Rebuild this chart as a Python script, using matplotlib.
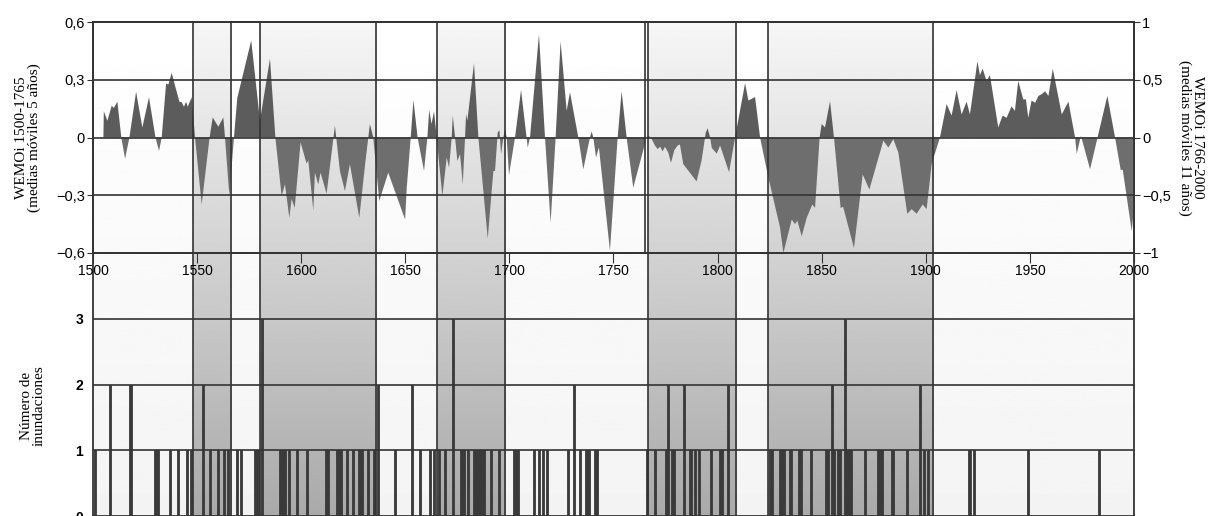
import numpy as np
import matplotlib.pyplot as plt

plt.rcParams['font.family'] = ['Liberation Sans', 'DejaVu Sans']

# WEMOi 1500-1765, 5-year moving averages (left axis)
early_years = [1505.0, 1505.2, 1506.9, 1509.0, 1510.0, 1511.7, 1513.6, 1515.4, 1517.5, 1520.7,
               1523.7, 1526.9, 1530.0, 1531.7, 1533.0, 1535.1, 1536.2, 1537.8, 1539.4, 1541.5,
               1542.6, 1543.7, 1544.7, 1545.5, 1547.4, 1549.0, 1552.2, 1556.0, 1557.5, 1560.2,
               1562.6, 1563.4, 1565.5, 1567.7, 1569.3, 1576.0, 1580.2, 1585.0, 1587.6, 1590.6,
               1592.2, 1594.3, 1595.4, 1596.9, 1599.7, 1602.6, 1603.4, 1605.8, 1606.6, 1608.2,
               1609.3, 1612.2, 1616.2, 1618.6, 1621.0, 1623.4, 1627.9, 1630.7, 1633.0, 1634.6,
               1637.5, 1641.8, 1649.9, 1650.7, 1652.6, 1653.9, 1655.9, 1659.0, 1660.6, 1661.5,
               1662.6, 1663.8, 1665.1, 1666.3, 1667.8, 1669.9, 1671.0, 1672.3, 1672.8, 1673.9,
               1675.0, 1676.3, 1677.6, 1678.7, 1679.2, 1679.8, 1683.0, 1685.1, 1689.6, 1692.3,
               1693.1, 1694.4, 1695.2, 1696.0, 1697.1, 1697.9, 1698.7, 1699.8, 1702.7, 1705.6,
               1708.8, 1709.9, 1714.2, 1717.1, 1719.8, 1722.2, 1724.6, 1727.5, 1729.1, 1733.1,
               1735.5, 1738.7, 1739.5, 1740.3, 1741.6, 1743.0, 1748.3, 1752.0, 1753.9, 1756.3,
               1759.5, 1765.4]
early_vals = [0.0, 0.136, 0.087, 0.165, 0.153, 0.186, 0.0, -0.11, 0.0, 0.238,
              0.052, 0.209, 0.0, -0.07, 0.0, 0.28, 0.275, 0.336, 0.27, 0.186,
              0.183, 0.16, 0.186, 0.16, 0.209, 0.0, -0.348, 0.0, 0.104, 0.056,
              0.104, 0.0, -0.304, 0.0, 0.205, 0.504, 0.087, 0.409, 0.0, -0.304,
              -0.243, -0.417, -0.32, -0.365, -0.026, -0.136, -0.118, -0.379, -0.183, -0.243,
              -0.183, -0.292, 0.061, -0.174, -0.278, -0.139, -0.417, -0.139, 0.07, 0.0,
              -0.33, -0.183, -0.426, -0.261, 0.0, 0.195, 0.0, -0.174, 0.0, 0.143,
              0.07, 0.136, 0.0, -0.139, -0.304, -0.104, -0.157, 0.0, 0.113, 0.0,
              -0.122, -0.087, -0.243, 0.0, 0.122, 0.087, 0.386, 0.0, -0.525, -0.174,
              -0.174, 0.026, 0.038, -0.087, 0.0, 0.043, 0.0, -0.195, 0.0, 0.247,
              -0.052, 0.0, 0.536, 0.0, -0.443, 0.0, 0.499, 0.139, 0.235, 0.0,
              -0.165, 0.0, 0.031, 0.0, -0.104, -0.052, -0.588, 0.0, 0.24, 0.0,
              -0.261, -0.02]

# WEMOi 1766-2000, 11-year moving averages (right axis)
late_years = [1765.8, 1766.7, 1768.0, 1769.9, 1771.2, 1772.4, 1773.6, 1774.7, 1776.3, 1777.6,
              1779.2, 1780.8, 1781.9, 1783.5, 1789.9, 1792.3, 1794.3, 1795.2, 1796.4, 1797.2,
              1799.6, 1801.2, 1805.5, 1808.4, 1813.2, 1814.8, 1818.0, 1820.4, 1824.3, 1830.0,
              1831.6, 1835.6, 1837.2, 1838.3, 1840.4, 1842.8, 1845.5, 1846.8, 1849.0, 1850.0,
              1851.6, 1854.0, 1855.9, 1859.1, 1860.3, 1865.5, 1869.7, 1872.9, 1879.6, 1882.0,
              1884.4, 1886.8, 1891.1, 1893.2, 1895.6, 1898.5, 1900.4, 1902.8, 1906.8, 1910.0,
              1912.4, 1914.8, 1917.2, 1919.6, 1921.2, 1924.8, 1926.0, 1927.3, 1929.2, 1930.8,
              1934.8, 1936.9, 1938.8, 1941.2, 1942.8, 1944.4, 1946.8, 1948.1, 1949.2, 1950.8,
              1952.5, 1954.1, 1955.7, 1957.3, 1958.9, 1961.0, 1965.3, 1968.5, 1971.7, 1972.5,
              1974.5, 1978.9, 1987.2, 1990.9, 1993.6, 1994.6, 1998.9, 2000.0]
late_vals = [0.0, 0.015, 0.0, -0.07, -0.10, -0.08, -0.12, -0.08, -0.13, -0.22,
             -0.11, -0.07, -0.06, -0.23, -0.38, -0.20, 0.04, 0.08, 0.0, -0.09,
             -0.14, -0.07, -0.30, 0.0, 0.47, 0.32, 0.35, 0.0, -0.34, -0.78,
             -1.0, -0.71, -0.75, -0.72, -0.855, -0.695, -0.58, -0.61, 0.0, 0.117,
             0.087, 0.313, 0.0, -0.61, -0.60, -0.957, -0.32, -0.45, -0.028, -0.087,
             -0.015, -0.13, -0.66, -0.62, -0.66, -0.58, -0.62, -0.23, 0.0, 0.29,
             0.19, 0.41, 0.20, 0.31, 0.20, 0.66, 0.54, 0.595, 0.49, 0.54,
             0.087, 0.19, 0.17, 0.27, 0.23, 0.49, 0.33, 0.33, 0.17, 0.32,
             0.30, 0.36, 0.375, 0.40, 0.36, 0.595, 0.20, 0.31, 0.0, -0.14,
             0.015, -0.275, 0.36, 0.0, -0.28, -0.28, -0.81, -0.61]

# number of floods per year
flood_years = [1501, 1508, 1518, 1530, 1531, 1537, 1541, 1545, 1547, 1553, 1556, 1560, 1563, 1565,
               1569, 1571, 1578, 1579, 1581, 1590, 1591, 1592, 1594, 1598, 1603, 1612, 1613, 1617,
               1618, 1619, 1622, 1625, 1628, 1629, 1632, 1635, 1637, 1645, 1653, 1657, 1662, 1664,
               1666, 1669, 1673, 1677, 1678, 1680, 1683, 1684, 1685, 1686, 1687, 1688, 1691, 1695,
               1702, 1703, 1704, 1712, 1714, 1716, 1718, 1728, 1731, 1734, 1737, 1738, 1741, 1742,
               1766, 1770, 1775, 1776, 1778, 1779, 1784, 1787, 1789, 1791, 1797, 1801, 1802, 1805,
               1825, 1826, 1830, 1831, 1832, 1835, 1839, 1840, 1845, 1852, 1853, 1855, 1856, 1858,
               1859, 1861, 1862, 1863, 1864, 1871, 1877, 1878, 1879, 1884, 1891, 1897, 1899, 1901,
               1921, 1923, 1949, 1983]
flood_counts = [1, 2, 2, 1, 1, 1, 1, 1, 1, 2, 1, 1, 1, 1,
                1, 1, 1, 1, 3, 1, 1, 1, 1, 1, 1, 1, 1, 1,
                1, 1, 1, 1, 1, 1, 1, 1, 2, 1, 2, 1, 1, 1,
                1, 1, 3, 1, 1, 1, 1, 1, 1, 1, 1, 1, 1, 1,
                1, 1, 1, 1, 1, 1, 1, 1, 2, 1, 1, 1, 1, 1,
                1, 1, 1, 2, 1, 1, 2, 1, 1, 1, 1, 1, 1, 2,
                1, 1, 1, 1, 1, 1, 1, 1, 1, 1, 1, 2, 1, 1,
                1, 3, 1, 1, 1, 1, 1, 1, 1, 1, 1, 2, 1, 1,
                1, 1, 1, 1]

# shaded periods
band_starts = [1548, 1580, 1665, 1766.5, 1824]
band_ends = [1566.5, 1636, 1698, 1809, 1903.5]
series_break = 1765.3

line_c = '#333333'
fig = plt.figure(figsize=(12.16, 5.16), dpi=100)
L, W = 93 / 1216, (1134 - 93) / 1216
y_mid = 1 - 253 / 516
y_top = 1 - 22 / 516

# background gradients spanning both panels
bg = fig.add_axes([L, 0, W, y_top], zorder=0)
bg.imshow(np.linspace(1.0, 0.955, 200)[:, None], cmap='gray', vmin=0, vmax=1,
          aspect='auto', extent=[1500, 2000, 0, 1])
for x0, x1 in zip(band_starts, band_ends):
    bg.imshow(np.linspace(0.965, 0.665, 200)[:, None], cmap='gray', vmin=0, vmax=1,
              aspect='auto', extent=[x0, x1, 0, 1])
bg.set_xlim(1500, 2000)
bg.set_ylim(0, 1)
bg.axis('off')

# bottom panel: floods
axb = fig.add_axes([L, 0, W, y_mid], zorder=1)
axb.patch.set_visible(False)
axb.bar(flood_years, flood_counts, width=1.0, color='#3a3a3a', edgecolor='#3a3a3a', linewidth=0.6)
for v in [1, 2, 3]:
    axb.axhline(v, color=line_c, lw=1.2)
for x in band_starts + band_ends:
    axb.axvline(x, color=line_c, lw=1.2)
axb.set_xlim(1500, 2000)
axb.set_ylim(0, 4)
axb.set_xticks([])
axb.set_yticks([0, 1, 2, 3])
axb.set_yticklabels(['0', '1', '2', '3'], fontweight='bold', fontsize=10)
axb.tick_params(axis='y', length=0, pad=7)
axb.spines['top'].set_visible(False)
for s in ['left', 'right', 'bottom']:
    axb.spines[s].set_color(line_c)
    axb.spines[s].set_linewidth(1.3)
axb.text(-0.058, 0.42, 'Número de\ninundaciones', transform=axb.transAxes, rotation=90,
         ha='center', va='center', fontsize=11, family='Liberation Serif', linespacing=0.95)

# top panel: WEMOi
ax = fig.add_axes([L, y_mid, W, y_top - y_mid], zorder=2)
ax.patch.set_visible(False)
ex = np.array(early_years)
ev = np.array(early_vals)
ax.fill_between(ex, ev, 0, where=ev >= 0, interpolate=True, color='#5c5c5c', lw=0)
ax.fill_between(ex, ev, 0, where=ev <= 0, interpolate=True, color='#6e6e6e', lw=0)
ax.set_xlim(1500, 2000)
ax.set_ylim(-0.6, 0.6)
ax.set_yticks([0.6, 0.3, 0, -0.3, -0.6])
ax.set_yticklabels(['0,6', '0,3', '0', '\u22120,3', '\u22120,6'], fontsize=10.5)
ax.set_xticks(np.arange(1500, 2001, 50))
ax.set_xticklabels([str(y) for y in range(1500, 2001, 50)], fontsize=10)
ax.tick_params(axis='x', direction='out', length=7, pad=1, color=line_c)
ax.tick_params(axis='y', direction='out', length=4, pad=2, color=line_c)
for s in ax.spines.values():
    s.set_color(line_c)
    s.set_linewidth(1.3)
ax.text(-0.062, 0.5, 'WEMOi 1500-1765\n(medias móviles 5 años)', transform=ax.transAxes,
        rotation=90, ha='center', va='center', fontsize=11, family='Liberation Serif',
        linespacing=0.95)

axr = ax.twinx()
axr.set_zorder(3)
axr.patch.set_visible(False)
lx = np.array(late_years)
lv = np.array(late_vals)
axr.fill_between(lx, lv, 0, where=lv >= 0, interpolate=True, color='#5c5c5c', lw=0)
axr.fill_between(lx, lv, 0, where=lv <= 0, interpolate=True, color='#6e6e6e', lw=0)
axr.set_ylim(-1, 1)
axr.set_yticks([1, 0.5, 0, -0.5, -1])
axr.set_yticklabels(['1', '0,5', '0', '\u22120,5', '\u22121'], fontsize=10.5)
axr.tick_params(axis='y', direction='out', length=4, pad=2, color=line_c)
for v in [0.5, 0, -0.5]:
    axr.axhline(v, color=line_c, lw=1.2, zorder=5)
for x in band_starts + band_ends + [series_break]:
    axr.axvline(x, color=line_c, lw=1.2, zorder=5)
for s in axr.spines.values():
    s.set_color(line_c)
    s.set_linewidth(1.3)
axr.text(1.055, 0.5, 'WEMOi 1766-2000\n(medias móviles 11 años)', transform=axr.transAxes,
         rotation=270, ha='center', va='center', fontsize=11, family='Liberation Serif',
         linespacing=0.95)

fig.savefig('out.png', dpi=100)
